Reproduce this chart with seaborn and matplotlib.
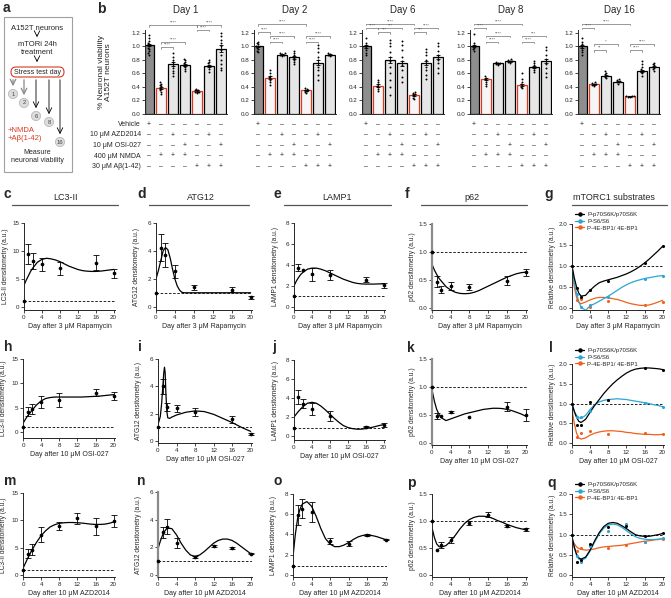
import warnings
import matplotlib
matplotlib.use("Agg")
import matplotlib.pyplot as plt
from matplotlib.patches import Rectangle, FancyBboxPatch, Circle
from matplotlib.lines import Line2D
import numpy as np
import pandas as pd
import seaborn as sns

warnings.filterwarnings("ignore")
sns.set_style("ticks")
plt.rcParams['font.family'] = ['Liberation Sans', 'DejaVu Sans']
plt.rcParams['axes.linewidth'] = 0.7

W, H = 671, 598
RED = '#d9391f'
BLUE = '#2aa6d5'
ORANGE = '#f0601e'

# ---------------- panel b data: neuronal viability ----------------
days_b = ["Day 1", "Day 2", "Day 6", "Day 8", "Day 16"]
viab_d1 = [1.02, 0.39, 0.74, 0.73, 0.34, 0.71, 0.97]
viab_d2 = [1.00, 0.54, 0.88, 0.84, 0.35, 0.76, 0.88]
viab_d6 = [1.00, 0.42, 0.80, 0.75, 0.28, 0.75, 0.84]
viab_d8 = [1.00, 0.52, 0.75, 0.78, 0.43, 0.70, 0.78]
viab_d16 = [1.00, 0.44, 0.57, 0.48, 0.26, 0.64, 0.70]
sem_d1 = [0.02, 0.015, 0.025, 0.015, 0.01, 0.02, 0.045]
sem_d2 = [0.01, 0.02, 0.01, 0.02, 0.01, 0.04, 0.01]
sem_d6 = [0.02, 0.02, 0.05, 0.04, 0.01, 0.03, 0.03]
sem_d8 = [0.015, 0.015, 0.01, 0.01, 0.02, 0.015, 0.03]
sem_d16 = [0.02, 0.01, 0.01, 0.01, 0.005, 0.015, 0.01]

pts_d1 = [[1.17, 1.12, 1.08, 1.05, 1.03, 1.0, 0.98, 0.96, 0.93, 0.9, 0.88],
          [0.47, 0.45, 0.43, 0.41, 0.39, 0.37, 0.35, 0.33, 0.3],
          [0.9, 0.85, 0.8, 0.77, 0.74, 0.71, 0.68, 0.64, 0.6, 0.57],
          [0.82, 0.8, 0.77, 0.75, 0.73, 0.71, 0.69, 0.66, 0.63],
          [0.37, 0.36, 0.35, 0.34, 0.33, 0.32, 0.31],
          [0.8, 0.77, 0.75, 0.73, 0.71, 0.69, 0.66, 0.62],
          [1.2, 1.15, 1.1, 1.05, 1.0, 0.95, 0.88, 0.8, 0.74, 0.68, 0.65]]
pts_d2 = [[1.07, 1.05, 1.03, 1.01, 1.0, 0.98, 0.96, 0.94, 0.92],
          [0.65, 0.6, 0.57, 0.55, 0.53, 0.5, 0.47, 0.43],
          [0.9, 0.89, 0.88, 0.87, 0.86, 0.9],
          [0.94, 0.9, 0.87, 0.85, 0.83, 0.8, 0.77, 0.74],
          [0.39, 0.37, 0.36, 0.35, 0.34, 0.33, 0.31],
          [1.02, 0.98, 0.92, 0.85, 0.8, 0.75, 0.7, 0.65, 0.58, 0.5],
          [0.9, 0.89, 0.88, 0.87, 0.86]]
pts_d6 = [[1.13, 1.05, 1.02, 1.0, 0.98, 0.95, 0.9, 0.87],
          [0.51, 0.48, 0.45, 0.42, 0.4, 0.37, 0.34],
          [1.1, 1.05, 1.0, 0.92, 0.85, 0.78, 0.7, 0.6, 0.5, 0.4, 0.28],
          [1.08, 1.02, 0.95, 0.85, 0.78, 0.72, 0.65, 0.55, 0.48],
          [0.33, 0.31, 0.29, 0.28, 0.26, 0.24, 0.22],
          [0.96, 0.92, 0.88, 0.8, 0.75, 0.7, 0.65, 0.58, 0.52],
          [1.05, 1.0, 0.93, 0.88, 0.84, 0.8, 0.75, 0.68, 0.6]]
pts_d8 = [[1.18, 1.05, 1.02, 1.0, 0.98, 0.96, 0.94],
          [0.56, 0.54, 0.52, 0.5, 0.47, 0.44, 0.41],
          [0.77, 0.76, 0.75, 0.74, 0.73],
          [0.81, 0.8, 0.79, 0.78, 0.77, 0.76],
          [0.6, 0.52, 0.47, 0.44, 0.42, 0.4, 0.38],
          [0.78, 0.75, 0.72, 0.7, 0.68, 0.65, 0.62],
          [0.99, 0.95, 0.88, 0.82, 0.78, 0.74, 0.68, 0.6, 0.55]]
pts_d16 = [[1.12, 1.06, 1.03, 1.0, 0.98, 0.95, 0.92, 0.88],
           [0.47, 0.46, 0.45, 0.44, 0.43, 0.42],
           [0.63, 0.61, 0.59, 0.57, 0.55, 0.53],
           [0.52, 0.5, 0.49, 0.48, 0.47, 0.45],
           [0.27, 0.265, 0.26, 0.255, 0.25],
           [0.78, 0.74, 0.7, 0.66, 0.64, 0.62, 0.6, 0.57],
           [0.76, 0.74, 0.72, 0.7, 0.68, 0.66, 0.64]]

# significance brackets: (from bar, to bar, height, label)
sig_d1 = [(0, 4, 1.32, "****"), (4, 6, 1.32, "****"), (4, 5, 1.25, "****"),
          (1, 3, 1.06, "****"), (1, 2, 0.99, "****")]
sig_d2 = [(0, 4, 1.33, "****"), (0, 1, 1.21, "****"), (1, 3, 1.15, "****"),
          (1, 2, 1.07, "****"), (4, 6, 1.15, "****"), (4, 5, 1.07, "****")]
sig_d6 = [(0, 4, 1.34, "****"), (0, 1, 1.28, "****"), (1, 3, 1.28, "***"),
          (1, 2, 1.21, "***"), (4, 6, 1.28, "****"), (4, 5, 1.21, "***")]
sig_d8 = [(0, 4, 1.34, "****"), (0, 1, 1.28, "****"), (1, 3, 1.16, "****"),
          (1, 2, 1.07, "****"), (4, 6, 1.16, "***"), (4, 5, 1.07, "****")]
sig_d16 = [(0, 4, 1.34, "****"), (0, 1, 1.28, "****"), (1, 3, 1.03, "*"),
           (1, 2, 0.95, "**"), (4, 6, 1.03, "****"), (4, 5, 0.95, "****")]

treat_labels = ["Vehicle", "10 \u03bcM AZD2014", "10 \u03bcM OSI-027", "400 \u03bcM NMDA", "30 \u03bcM A\u03b2(1-42)"]
treat_rows = ["+------", "--+--+-", "---+--+", "-+++---", "----+++"]

# ---------------- panels c-q data: time courses ----------------
days_rapa = [0, 1, 2, 4, 8, 16, 20]
days_osi = [0, 1, 2, 4, 8, 16, 20]
days_azd = [0, 1, 2, 4, 8, 12, 16, 20]
fit_days = [0, 0.5, 1, 1.5, 2, 3, 4, 5, 6, 7, 8, 9, 10, 11, 12, 13, 14, 15, 16, 17, 18, 19, 20]
fit_days_atg12_rapa = [0, 0.5, 1, 1.5, 2, 2.5, 3, 3.5, 4, 4.5, 5, 5.5, 6, 8, 12, 16, 20]
fit_days_atg12_osi = [0, 0.5, 0.8, 1, 1.25, 1.4, 1.55, 1.7, 1.9, 2.1, 2.5, 3, 4, 6, 8, 10, 12, 14, 16, 18, 20]

lc3_rapa = [1.0, 9.5, 8.2, 7.6, 6.9, 7.9, 6.0]
lc3_rapa_sem = [0, 1.75, 1.4, 1.2, 1.1, 1.3, 0.8]
lc3_rapa_fit = [3.9, 4.8, 5.6, 6.4, 7.0, 8.0, 8.5, 8.7, 8.6, 8.4, 8.1, 7.7, 7.3, 7.0, 6.7, 6.5, 6.4, 6.35, 6.35, 6.4, 6.5, 6.6, 6.7]
atg12_rapa = [1.0, 4.25, 3.7, 2.55, 1.4, 1.25, 0.7]
atg12_rapa_sem = [0, 0.95, 0.85, 0.45, 0.2, 0.2, 0.1]
atg12_rapa_fit = [2.0, 2.6, 3.3, 4.0, 4.25, 4.1, 3.5, 2.7, 2.0, 1.5, 1.2, 1.05, 1.02, 1.02, 1.02, 1.02, 1.02]
lamp1_rapa = [1.0, 3.75, 3.5, 3.1, 3.05, 2.6, 2.05]
lamp1_rapa_sem = [0, 0.3, 0, 0.6, 0.5, 0.25, 0.2]
lamp1_rapa_fit = [2.0, 2.45, 2.8, 3.1, 3.3, 3.6, 3.7, 3.7, 3.6, 3.45, 3.25, 3.05, 2.85, 2.65, 2.5, 2.35, 2.25, 2.2, 2.18, 2.18, 2.18, 2.2, 2.2]
p62_rapa = [1.0, 0.47, 0.33, 0.39, 0.37, 0.49, 0.64]
p62_rapa_sem = [0, 0.1, 0.07, 0.07, 0.05, 0.08, 0.06]
p62_rapa_fit = [0.78, 0.68, 0.6, 0.53, 0.48, 0.38, 0.32, 0.28, 0.26, 0.255, 0.26, 0.28, 0.31, 0.35, 0.39, 0.43, 0.47, 0.51, 0.55, 0.58, 0.61, 0.63, 0.64]
s6k_rapa = [1.0, 0.47, 0.27, 0.43, 0.65, 1.07, 1.47]
s6_rapa = [1.0, 0.32, 0.02, 0.07, 0.25, 0.68, 0.76]
ebp1_rapa = [1.0, 0.2, 0.22, 0.03, 0.17, 0.07, 0.13]
s6k_rapa_fit = [1.0, 0.72, 0.5, 0.35, 0.28, 0.3, 0.42, 0.52, 0.6, 0.64, 0.67, 0.7, 0.73, 0.77, 0.81, 0.86, 0.92, 0.99, 1.07, 1.16, 1.26, 1.36, 1.47]
s6_rapa_fit = [1.0, 0.6, 0.35, 0.15, 0.02, -0.06, 0.05, 0.1, 0.16, 0.22, 0.28, 0.35, 0.42, 0.49, 0.55, 0.6, 0.64, 0.67, 0.7, 0.72, 0.74, 0.76, 0.77]
ebp1_rapa_fit = [0.95, 0.5, 0.25, 0.13, 0.1, 0.14, 0.19, 0.23, 0.25, 0.25, 0.24, 0.22, 0.2, 0.17, 0.13, 0.1, 0.08, 0.06, 0.06, 0.07, 0.1, 0.14, 0.18]

lc3_osi = [1.0, 4.2, 4.8, 6.2, 6.6, 8.1, 7.4]
lc3_osi_sem = [0, 0.9, 1.0, 1.2, 1.4, 0.7, 0.9]
lc3_osi_fit = [1.8, 2.6, 3.3, 3.9, 4.5, 5.6, 6.4, 6.9, 7.1, 7.2, 7.2, 7.2, 7.2, 7.2, 7.2, 7.2, 7.25, 7.3, 7.35, 7.4, 7.5, 7.6, 7.7]
atg12_osi = [1.05, 4.0, 2.5, 2.4, 2.1, 1.6, 0.5]
atg12_osi_sem = [0, 0.55, 0.3, 0.25, 0.3, 0.25, 0.05]
atg12_osi_fit = [1.2, 1.8, 2.8, 3.8, 5.0, 5.4, 5.0, 3.5, 2.2, 1.7, 1.65, 1.75, 1.9, 2.1, 2.2, 2.15, 1.95, 1.65, 1.35, 1.0, 0.7]
lamp1_osi = [0.85, 4.1, 3.4, 2.85, 2.1, 1.0, 1.2]
lamp1_osi_sem = [0, 0.7, 0.5, 0.6, 0.5, 0.1, 0.2]
lamp1_osi_fit = [2.0, 2.3, 2.6, 2.85, 3.1, 3.45, 3.55, 3.45, 3.15, 2.75, 2.3, 1.85, 1.45, 1.1, 0.9, 0.78, 0.72, 0.72, 0.78, 0.87, 0.98, 1.1, 1.2]
p62_osi = [1.0, 0.48, 0.48, 0.55, 0.46, 0.65, 0.5]
p62_osi_sem = [0, 0.06, 0, 0.02, 0, 0.08, 0.1]
p62_osi_fit = [0.95, 0.75, 0.6, 0.51, 0.45, 0.4, 0.43, 0.46, 0.49, 0.52, 0.54, 0.56, 0.58, 0.6, 0.61, 0.62, 0.62, 0.615, 0.6, 0.58, 0.55, 0.52, 0.48]
s6k_osi = [1.0, 0.45, 0.45, 1.05, 1.1, 1.9, 1.86]
s6_osi = [1.0, 0.67, 0.65, 0.82, 1.08, 1.02, 0.92]
ebp1_osi = [1.0, 0.15, 0.25, 0.3, 0.23, 0.25, 0.22]
s6k_osi_fit = [1.0, 0.8, 0.65, 0.55, 0.52, 0.6, 0.78, 0.95, 1.1, 1.25, 1.38, 1.5, 1.6, 1.69, 1.77, 1.83, 1.87, 1.89, 1.9, 1.9, 1.89, 1.88, 1.86]
s6_osi_fit = [1.0, 0.8, 0.7, 0.64, 0.62, 0.7, 0.85, 0.97, 1.04, 1.08, 1.1, 1.11, 1.12, 1.11, 1.1, 1.08, 1.06, 1.04, 1.02, 1.0, 0.97, 0.95, 0.92]
ebp1_osi_fit = [0.85, 0.5, 0.25, 0.13, 0.1, 0.13, 0.2, 0.25, 0.28, 0.3, 0.31, 0.31, 0.3, 0.29, 0.27, 0.26, 0.24, 0.23, 0.22, 0.22, 0.21, 0.21, 0.22]

lc3_azd = [1.0, 3.9, 4.6, 7.4, 9.0, 10.4, 8.9, 9.9]
lc3_azd_sem = [0, 0.8, 1.0, 1.4, 0.7, 1.0, 1.6, 1.1]
lc3_azd_fit = [1.2, 2.1, 3.0, 3.8, 4.6, 6.0, 7.2, 8.1, 8.8, 9.2, 9.45, 9.55, 9.6, 9.6, 9.55, 9.5, 9.4, 9.3, 9.25, 9.25, 9.3, 9.45, 9.7]
atg12_azd = [1.05, 3.1, 3.5, 2.3, 1.3, 2.1, 1.95, 1.55]
atg12_azd_sem = [0, 0.4, 0.55, 0.35, 0.1, 0.05, 0.05, 0.05]
atg12_azd_fit = [1.9, 2.45, 2.9, 3.2, 3.4, 3.35, 2.9, 2.3, 1.8, 1.45, 1.35, 1.45, 1.7, 2.0, 2.3, 2.5, 2.6, 2.6, 2.5, 2.3, 2.05, 1.8, 1.55]
lamp1_azd = [0.85, 5.9, 6.55, 6.2, 3.4, 3.1, 3.95, 3.5]
lamp1_azd_sem = [0, 1.0, 0.95, 1.0, 0.3, 0.25, 0.1, 0.05]
lamp1_azd_fit = [1.8, 4.0, 5.6, 6.5, 7.0, 7.25, 6.8, 5.8, 4.6, 3.6, 3.05, 2.8, 2.8, 2.95, 3.2, 3.5, 3.75, 3.9, 3.95, 3.9, 3.8, 3.65, 3.5]
p62_azd = [1.0, 0.46, 0.56, 0.65, 0.97, 1.12, 0.91, 0.85]
p62_azd_sem = [0, 0, 0.05, 0.06, 0.04, 0.04, 0.02, 0.03]
p62_azd_fit = [0.88, 0.7, 0.58, 0.53, 0.52, 0.55, 0.63, 0.74, 0.86, 0.96, 1.03, 1.07, 1.09, 1.09, 1.08, 1.05, 1.01, 0.98, 0.94, 0.91, 0.88, 0.86, 0.84]
s6k_azd = [1.0, 0.33, 0.38, 0.78, 1.18, 1.22, 0.97, 1.04]
s6_azd = [1.0, 0.47, 0.32, 0.72, 1.1, 1.27, 0.82, 0.92]
ebp1_azd = [1.0, 0.6, 0.67, 0.75, 0.68, 0.75, 0.82, 0.9]
s6k_azd_fit = [0.95, 0.7, 0.52, 0.43, 0.4, 0.45, 0.62, 0.85, 1.05, 1.2, 1.28, 1.3, 1.28, 1.22, 1.15, 1.07, 1.0, 0.97, 0.96, 0.96, 0.98, 1.0, 1.03]
s6_azd_fit = [0.95, 0.68, 0.5, 0.4, 0.37, 0.42, 0.6, 0.82, 1.02, 1.16, 1.24, 1.26, 1.24, 1.18, 1.1, 1.02, 0.95, 0.91, 0.89, 0.88, 0.88, 0.89, 0.9]
ebp1_azd_fit = [0.88, 0.78, 0.7, 0.66, 0.64, 0.62, 0.63, 0.65, 0.68, 0.7, 0.71, 0.72, 0.73, 0.74, 0.76, 0.78, 0.8, 0.82, 0.84, 0.85, 0.87, 0.88, 0.9]

sub_names = ["P-p70S6K/p70S6K", "P-S6/S6", "P-4E-BP1/ 4E-BP1"]


def px_rect(l, t, r, b):
    return [l / W, 1 - b / H, (r - l) / W, (b - t) / H]


fig = plt.figure(figsize=(W / 100, H / 100), dpi=100)

# ---------------- panel b ----------------
conds = [f"c{i}" for i in range(7)]
fills = {"c0": "#8e8e8e", "c1": "#f6f6f6", "c2": "#e6e6e6", "c3": "#e6e6e6",
         "c4": "#f6f6f6", "c5": "#e6e6e6", "c6": "#e6e6e6"}
edges = ['k', RED, 'k', 'k', RED, 'k', 'k']
bar_lefts = [145, 254, 362, 470, 578]
bar_top, bar_bot = 29.6, 114
row_px = [124.5, 135, 145.5, 156, 166.5]

all_means = [viab_d1, viab_d2, viab_d6, viab_d8, viab_d16]
all_sems = [sem_d1, sem_d2, sem_d6, sem_d8, sem_d16]
all_pts = [pts_d1, pts_d2, pts_d6, pts_d8, pts_d16]
all_sigs = [sig_d1, sig_d2, sig_d6, sig_d8, sig_d16]

for d, day in enumerate(days_b):
    ax = fig.add_axes(px_rect(bar_lefts[d], bar_top, bar_lefts[d] + 82, bar_bot))
    ax.set_facecolor('none')
    mdf = pd.DataFrame({"cond": conds, "viab": all_means[d]})
    sns.barplot(data=mdf, x="cond", y="viab", hue="cond", order=conds, hue_order=conds,
                palette=fills, legend=False, width=0.78, errorbar=None,
                linewidth=0.9, edgecolor='k', ax=ax)
    for p, ec in zip(ax.patches, edges):
        p.set_edgecolor(ec)
    pdf = pd.DataFrame([(conds[i], v) for i, vals in enumerate(all_pts[d]) for v in vals],
                       columns=["cond", "viab"])
    sns.swarmplot(data=pdf, x="cond", y="viab", order=conds, color="k", size=1.4, ax=ax, zorder=3)
    ax.errorbar(np.arange(7), all_means[d], yerr=all_sems[d], fmt='none', ecolor='k',
                elinewidth=0.6, capsize=1.5, capthick=0.6, zorder=4)
    for i, j, y, lab in all_sigs[d]:
        ax.plot([i, i, j, j], [y - 0.025, y, y, y - 0.025], color='#707070', lw=0.5, clip_on=False)
        ax.text((i + j) / 2, y + 0.004, lab, ha='center', va='bottom', fontsize=3.2,
                color='#555555', clip_on=False)
    ax.set_xlim(-0.35, 6.5)
    ax.set_ylim(0, 1.25)
    ax.set_yticks([0, 0.2, 0.4, 0.6, 0.8, 1.0, 1.2])
    ax.set_yticklabels(["0.0", "0.2", "0.4", "0.6", "0.8", "1.0", "1.2"])
    ax.tick_params(axis='y', labelsize=4.5, length=2, width=0.6, pad=1.5)
    ax.tick_params(axis='x', length=0, labelbottom=False)
    ax.set_xlabel("")
    ax.set_ylabel("")
    sns.despine(ax=ax)
    ax.text(0.5, 1 + (bar_top - 10) / (bar_bot - bar_top), day, transform=ax.transAxes,
            ha='center', va='center', fontsize=7)
    for r, row in enumerate(treat_rows):
        yf = (bar_bot - row_px[r]) / (bar_bot - bar_top)
        for i, ch in enumerate(row):
            ax.text(i, yf, "+" if ch == "+" else "\u2013", transform=ax.get_xaxis_transform(),
                    ha='center', va='center', fontsize=5, clip_on=False)
        if d == 0:
            ax.text(-0.05, yf, treat_labels[r], transform=ax.transAxes, ha='right',
                    va='center', fontsize=5)
    if d == 0:
        ax.set_ylabel("% Neuronal viability\nA152T neurons", fontsize=6, linespacing=1.1)
        ax.yaxis.set_label_coords(-0.4, 0.5)

# ---------------- panels c-q ----------------
ylab = {"lc3": "LC3-II densitometry (a.u.)", "atg": "ATG12 densitometry (a.u.)",
        "lamp": "LAMP1 densitometry (a.u.)", "p62": "p62 densitometry (a.u.)",
        "sub": "Relative densitometry (a.u.)"}
xlab = ["Day after 3 \u03bcM Rapamycin", "Day after 10 \u03bcM OSI-027", "Day after 10 \u03bcM AZD2014"]

# (rect, kind, days, series list, fit x, ylim, baseline, gray spine, row)
panels = [
    ((24, 223, 115, 310), "lc3", days_rapa, [(lc3_rapa, lc3_rapa_sem, lc3_rapa_fit, 'k')], fit_days, (-0.54, 15), 1.0, False, 0),
    ((156, 223, 252, 310), "atg", days_rapa, [(atg12_rapa, atg12_rapa_sem, atg12_rapa_fit, 'k')], fit_days_atg12_rapa, (-0.21, 6), 1.0, False, 0),
    ((294, 223, 385, 310), "lamp", days_rapa, [(lamp1_rapa, lamp1_rapa_sem, lamp1_rapa_fit, 'k')], fit_days, (-0.29, 8), 1.0, False, 0),
    ((432, 224, 527, 310), "p62", days_rapa, [(p62_rapa, p62_rapa_sem, p62_rapa_fit, 'k')], fit_days, (-0.036, 1.5), 1.0, True, 0),
    ((572, 224, 664, 310), "sub", days_rapa, [(ebp1_rapa, None, ebp1_rapa_fit, ORANGE), (s6_rapa, None, s6_rapa_fit, BLUE),
                                              (s6k_rapa, None, s6k_rapa_fit, 'k')], fit_days, (-0.05, 2.0), 1.0, False, 0),
    ((23, 359, 115, 438), "lc3", days_osi, [(lc3_osi, lc3_osi_sem, lc3_osi_fit, 'k')], fit_days, (-1.2, 15), 1.0, False, 1),
    ((158, 359, 252, 443), "atg", days_osi, [(atg12_osi, atg12_osi_sem, atg12_osi_fit, 'k')], fit_days_atg12_osi, (-0.15, 6), 1.05, False, 1),
    ((294, 360, 385, 440), "lamp", days_osi, [(lamp1_osi, lamp1_osi_sem, lamp1_osi_fit, 'k')], fit_days, (-0.42, 8), 0.85, False, 1),
    ((432, 359, 527, 445), "p62", days_osi, [(p62_osi, p62_osi_sem, p62_osi_fit, 'k')], fit_days, (-0.036, 1.5), 1.0, True, 1),
    ((572, 364, 664, 445), "sub", days_osi, [(ebp1_osi, None, ebp1_osi_fit, ORANGE), (s6_osi, None, s6_osi_fit, BLUE),
                                             (s6k_osi, None, s6k_osi_fit, 'k')], fit_days, (-0.05, 2.0), 1.0, False, 1),
    ((23, 493, 115, 577), "lc3", days_azd, [(lc3_azd, lc3_azd_sem, lc3_azd_fit, 'k')], fit_days, (-0.37, 15), 1.0, False, 2),
    ((158, 492, 252, 577), "atg", days_azd, [(atg12_azd, atg12_azd_sem, atg12_azd_fit, 'k')], fit_days, (-0.14, 6), 1.05, True, 2),
    ((293, 494, 387, 577), "lamp", days_azd, [(lamp1_azd, lamp1_azd_sem, lamp1_azd_fit, 'k')], fit_days, (-0.2, 8), 0.85, False, 2),
    ((432, 494, 527, 577), "p62", days_azd, [(p62_azd, p62_azd_sem, p62_azd_fit, 'k')], fit_days, (-0.03, 1.5), 1.0, False, 2),
    ((572, 494, 664, 577), "sub", days_azd, [(ebp1_azd, None, ebp1_azd_fit, ORANGE), (s6_azd, None, s6_azd_fit, BLUE),
                                             (s6k_azd, None, s6k_azd_fit, 'k')], fit_days, (-0.04, 2.0), 1.0, False, 2),
]

yticks_for = {"lc3": ([0, 5, 10, 15], ["0", "5", "10", "15"]),
              "atg": ([0, 2, 4, 6], ["0", "2", "4", "6"]),
              "lamp": ([0, 2, 4, 6, 8], ["0", "2", "4", "6", "8"]),
              "p62": ([0, 0.5, 1.0, 1.5], ["0.0", "0.5", "1.0", "1.5"]),
              "sub": ([0, 0.5, 1.0, 1.5, 2.0], ["0.0", "0.5", "1.0", "1.5", "2.0"])}

for rect, kind, days, series, fx, ylim, base, gray, row in panels:
    ax = fig.add_axes(px_rect(*rect))
    ax.set_facecolor('none')
    ax.axhline(base, color='k', lw=0.6, ls=(0, (3, 2)), zorder=1)
    for vals, sem, fit, col in series:
        sns.lineplot(x=fx, y=fit, color=col, lw=0.9, ax=ax, estimator=None, sort=False, zorder=2)
        if sem is not None:
            dd = [x for x, s in zip(days, sem) if s > 0]
            mm = [v for v, s in zip(vals, sem) if s > 0]
            ss = [s for s in sem if s > 0]
            ax.errorbar(dd, mm, yerr=ss, fmt='none', ecolor=col, elinewidth=0.6,
                        capsize=2, capthick=0.6, zorder=3, clip_on=False)
        sns.scatterplot(x=days, y=vals, color=col, s=7 if sem is not None else 5, marker='o',
                        linewidth=0, ax=ax, zorder=4, clip_on=False)
    ax.set_xlim(0, 20.3)
    ax.set_ylim(*ylim)
    ax.set_xticks([0, 4, 8, 12, 16, 20])
    ax.set_yticks(yticks_for[kind][0])
    ax.set_yticklabels(yticks_for[kind][1])
    ax.tick_params(labelsize=4.5, length=2, width=0.6, pad=1.5)
    ax.set_xlabel(xlab[row], fontsize=5, labelpad=2)
    ax.set_ylabel(ylab[kind], fontsize=4.8)
    ax.yaxis.set_label_coords(-0.17, 0.5)
    sns.despine(ax=ax)
    if gray:
        ax.spines['left'].set_color('#8a8a8a')
        ax.spines['left'].set_linewidth(1.6)
    if kind == "sub":
        handles = [Line2D([], [], color=c, lw=0.9, marker='o', ms=2.2) for c in ['k', BLUE, ORANGE]]
        top_off = 12 if row != 1 else 16
        ax.legend(handles, sub_names, loc='upper left', frameon=False, fontsize=4.3,
                  handlelength=1.6, handletextpad=0.5, labelspacing=0.25, borderpad=0,
                  borderaxespad=0, bbox_to_anchor=(0.03, 1 + top_off / (rect[3] - rect[1])))

# ---------------- overlay: letters, titles, panel a ----------------
ov = fig.add_axes([0, 0, 1, 1])
ov.set_xlim(0, W)
ov.set_ylim(H, 0)
ov.axis('off')
ov.patch.set_alpha(0)

letters = [("a", 3, 8), ("b", 97, 9),
           ("c", 4, 194), ("d", 137, 194), ("e", 274, 194), ("f", 405, 194), ("g", 544, 194),
           ("h", 4, 347), ("i", 138, 347), ("j", 272, 347), ("k", 407, 348), ("l", 549, 348),
           ("m", 4, 481), ("n", 137, 481), ("o", 273, 481), ("p", 407, 483), ("q", 547, 483)]
for lt, x, y in letters:
    ov.text(x, y, lt, fontsize=10, fontweight='bold', ha='left', va='center')

row_titles = [("LC3-II", 66, 12, 118), ("ATG12", 201, 149, 249), ("LAMP1", 337, 284, 391),
              ("p62", 472, 421, 527), ("mTORC1 substrates", 614, 572, 667)]
for title, cx, x0, x1 in row_titles:
    ov.text(cx, 198, title, fontsize=6.5, ha='center', va='center')
    ov.plot([x0, x1], [205, 205], color='#555555', lw=0.9)

# panel a schematic
ov.add_patch(Rectangle((4, 17), 68, 155, fill=False, edgecolor='#a0a0a0', lw=0.8))
ov.text(37, 28, "A152T neurons", fontsize=5.5, ha='center', va='center')
ov.annotate("", xy=(37, 40), xytext=(37, 32), arrowprops=dict(arrowstyle='->', lw=0.6, color='k'))
ov.text(37, 44, "mTORi 24h", fontsize=5.5, ha='center', va='center')
ov.text(37, 52, "treatment", fontsize=5.5, ha='center', va='center')
ov.annotate("", xy=(37, 65), xytext=(37, 57), arrowprops=dict(arrowstyle='->', lw=0.6, color='k'))
ov.add_patch(FancyBboxPatch((11, 67), 53, 10, boxstyle="round,pad=0,rounding_size=5",
                            facecolor='white', edgecolor=RED, lw=0.8))
ov.text(37.5, 72.5, "Stress test day", fontsize=5, ha='center', va='center')
stress_days = [("1", 13, 94, '#888888'), ("2", 24, 103, '#888888'), ("6", 36, 116, 'k'),
               ("8", 49, 122, 'k'), ("16", 60, 142, 'k')]
for lab, x, y, col in stress_days:
    ov.annotate("", xy=(x, y - 5), xytext=(x, 77),
                arrowprops=dict(arrowstyle='->', lw=0.9 if col != 'k' else 0.6, color=col))
    ov.add_patch(Circle((x, y), 4.6, facecolor='#dcdcdc', edgecolor='#b0b0b0', lw=0.5))
    ov.text(x, y, lab, fontsize=4.2, ha='center', va='center', color='#444444')
ov.text(8, 131, "+NMDA", fontsize=5.5, color=RED, ha='left', va='center')
ov.text(8, 139, "+A\u03b2(1-42)", fontsize=5.5, color=RED, ha='left', va='center')
ov.text(37, 153, "Measure", fontsize=5, ha='center', va='center')
ov.text(37, 161, "neuronal viability", fontsize=5, ha='center', va='center')

fig.savefig("out.png", dpi=100)
